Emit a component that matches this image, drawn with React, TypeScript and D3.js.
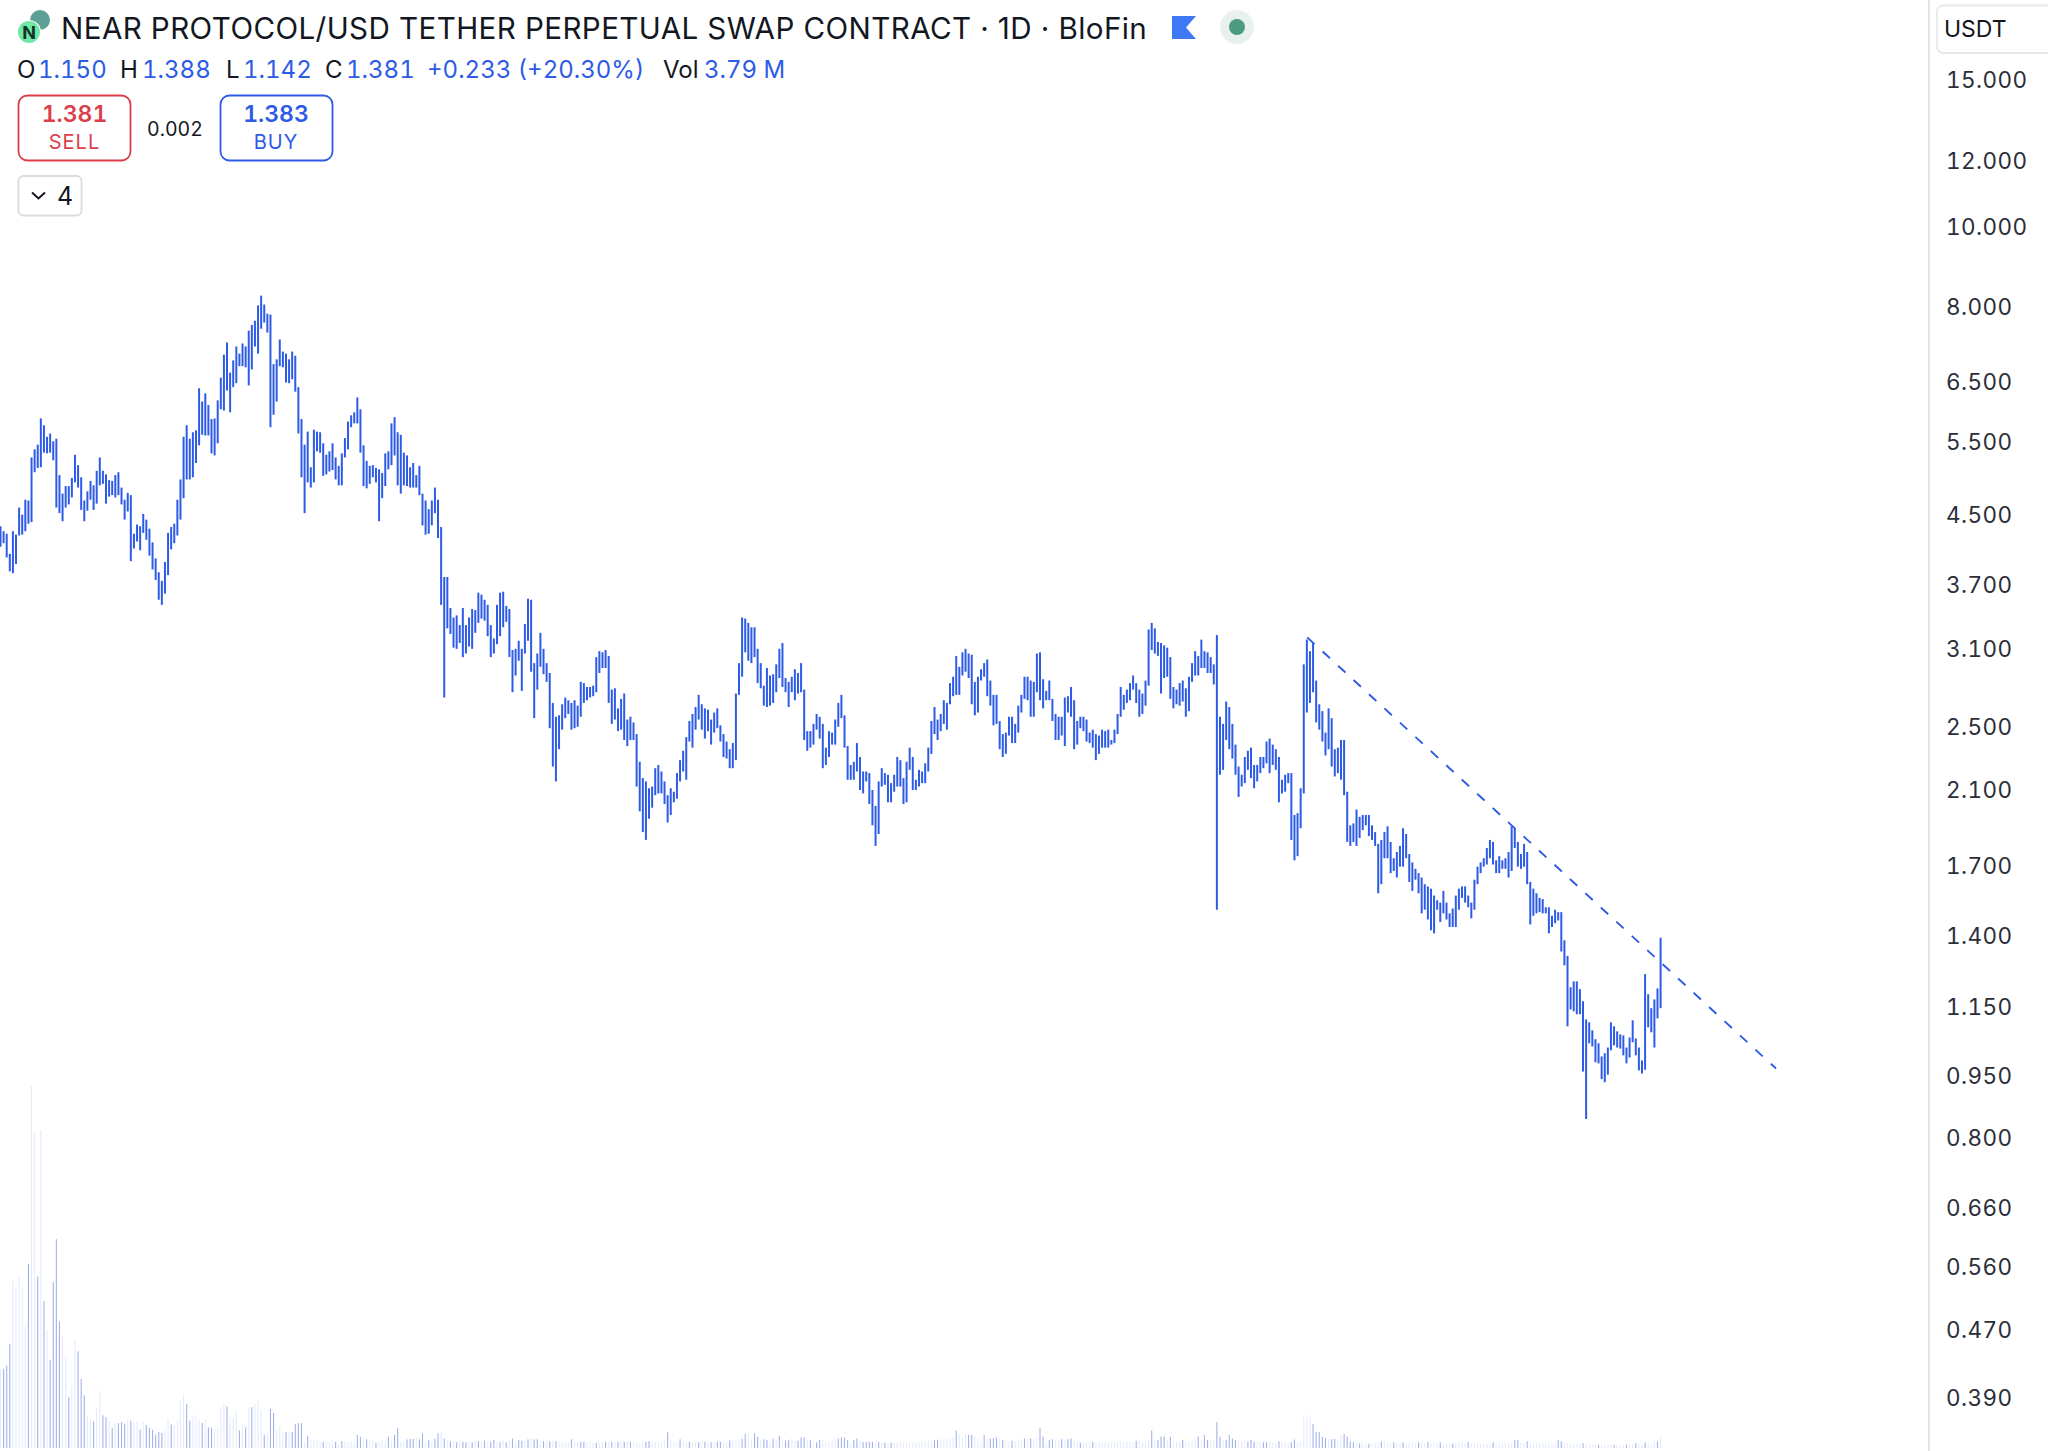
import React, { useEffect, useRef } from "react";
import * as d3 from "d3";

// [high, low] per daily bar, oldest first
const priceRanges: [number, number][] = [
  [4.34,4.10],[4.28,4.14],[4.25,3.98],[4.02,3.83],[4.28,3.81],[4.24,3.91],[4.57,4.23],[4.48,4.24],[4.67,4.28],[4.66,4.37],
  [5.25,4.39],[5.37,5.04],[5.44,5.10],[5.85,5.11],[5.74,5.32],[5.56,5.31],[5.61,5.32],[5.49,5.21],[5.53,4.57],[5.00,4.50],
  [4.75,4.40],[4.85,4.57],[4.85,4.61],[4.96,4.70],[5.29,4.90],[5.14,4.83],[4.97,4.54],[4.66,4.40],[4.78,4.53],[4.92,4.67],
  [4.86,4.54],[5.06,4.62],[5.25,4.86],[5.06,4.88],[5.01,4.62],[4.93,4.71],[4.92,4.73],[5.00,4.70],[5.04,4.73],[4.83,4.61],
  [4.67,4.42],[4.76,4.52],[4.73,3.94],[4.25,4.08],[4.36,4.16],[4.34,4.06],[4.49,4.26],[4.42,4.18],[4.31,4.00],[4.15,3.85],
  [3.97,3.74],[3.82,3.54],[3.73,3.49],[3.93,3.60],[4.26,3.79],[4.33,4.07],[4.37,4.14],[4.67,4.23],[4.94,4.42],[5.56,4.69],
  [5.74,4.94],[5.53,4.94],[5.63,4.97],[5.66,5.17],[6.36,5.43],[6.13,5.59],[6.27,5.58],[6.07,5.58],[5.84,5.31],[5.85,5.28],
  [6.15,5.46],[6.55,6.00],[6.98,5.98],[7.22,6.32],[6.64,5.95],[6.87,6.38],[7.14,6.45],[7.00,6.76],[7.20,6.76],[7.14,6.74],
  [7.46,6.41],[7.58,6.70],[7.67,7.14],[8.00,7.00],[8.22,7.50],[8.02,7.63],[7.82,7.42],[7.80,5.71],[6.80,5.91],[6.89,6.13],
  [7.28,6.76],[7.04,6.74],[7.00,6.46],[6.89,6.45],[7.04,6.52],[6.96,6.30],[6.38,5.61],[5.84,4.97],[5.44,4.50],[5.64,4.90],
  [5.11,4.83],[5.67,4.90],[5.64,5.34],[5.63,5.32],[5.46,4.99],[5.29,5.01],[5.34,5.05],[5.46,5.07],[5.25,4.94],[5.13,4.86],
  [5.31,4.86],[5.54,5.25],[5.80,5.37],[5.90,5.71],[5.95,5.77],[6.20,5.77],[6.00,5.32],[5.43,4.85],[5.20,4.82],[5.13,4.88],
  [5.14,4.97],[5.10,4.90],[5.08,4.40],[5.03,4.69],[5.31,4.85],[5.34,5.08],[5.77,5.14],[5.87,5.28],[5.63,4.86],[5.59,4.75],
  [5.32,4.86],[5.28,4.85],[5.11,4.83],[5.17,4.83],[5.00,4.83],[5.13,4.73],[4.75,4.35],[4.66,4.24],[4.55,4.25],[4.66,4.35],
  [4.83,4.50],[4.67,4.20],[4.33,3.49],[3.77,2.70],[3.77,3.27],[3.46,3.22],[3.37,3.10],[3.39,3.09],[3.30,3.14],[3.46,3.02],
  [3.30,3.05],[3.37,3.11],[3.45,3.09],[3.44,3.23],[3.61,3.32],[3.59,3.36],[3.54,3.34],[3.49,3.20],[3.30,3.02],[3.18,3.05],
  [3.49,3.13],[3.61,3.20],[3.62,3.28],[3.48,3.33],[3.45,3.02],[3.08,2.74],[3.09,2.87],[3.16,2.99],[3.09,2.75],[3.31,3.05],
  [3.55,3.16],[3.54,2.90],[2.97,2.55],[3.05,2.76],[3.23,2.94],[3.09,2.88],[2.97,2.82],[2.89,2.48],[2.66,2.23],[2.56,2.14],
  [2.57,2.34],[2.65,2.47],[2.70,2.55],[2.68,2.58],[2.66,2.47],[2.68,2.48],[2.64,2.49],[2.82,2.56],[2.81,2.66],[2.78,2.68],
  [2.78,2.70],[2.79,2.71],[3.02,2.74],[3.07,2.89],[3.06,2.93],[3.08,2.93],[3.03,2.66],[2.76,2.51],[2.77,2.54],[2.62,2.46],
  [2.69,2.47],[2.73,2.40],[2.54,2.36],[2.56,2.40],[2.52,2.40],[2.44,2.11],[2.26,1.97],[2.16,1.86],[2.14,1.82],[2.10,1.93],
  [2.11,1.99],[2.22,2.06],[2.24,2.07],[2.20,2.07],[2.14,2.01],[2.06,1.91],[2.10,1.95],[2.08,2.02],[2.19,2.04],[2.27,2.14],
  [2.33,2.20],[2.42,2.15],[2.53,2.39],[2.58,2.35],[2.63,2.47],[2.72,2.54],[2.65,2.47],[2.62,2.41],[2.61,2.46],[2.54,2.37],
  [2.59,2.45],[2.62,2.48],[2.50,2.39],[2.44,2.29],[2.39,2.28],[2.34,2.22],[2.38,2.22],[2.73,2.27],[2.97,2.72],[3.37,2.86],
  [3.36,3.06],[3.32,2.99],[3.28,2.97],[3.28,3.02],[3.09,2.81],[2.97,2.77],[2.79,2.64],[2.93,2.63],[2.87,2.64],[2.88,2.66],
  [2.96,2.74],[3.09,2.85],[3.14,2.78],[2.85,2.74],[2.82,2.63],[2.86,2.74],[2.92,2.68],[2.89,2.73],[2.97,2.74],[2.76,2.40],
  [2.46,2.33],[2.46,2.35],[2.51,2.37],[2.58,2.47],[2.56,2.41],[2.51,2.22],[2.35,2.24],[2.46,2.29],[2.45,2.37],[2.54,2.37],
  [2.66,2.49],[2.72,2.55],[2.57,2.35],[2.36,2.15],[2.24,2.15],[2.26,2.15],[2.38,2.20],[2.29,2.09],[2.20,2.07],[2.20,2.14],
  [2.19,2.01],[2.09,1.895],[2.00,1.79],[2.14,1.85],[2.22,2.11],[2.19,2.12],[2.18,2.02],[2.13,2.02],[2.18,2.08],[2.29,2.11],
  [2.27,2.11],[2.16,2.01],[2.26,2.02],[2.35,2.21],[2.29,2.09],[2.15,2.09],[2.21,2.11],[2.20,2.13],[2.25,2.13],[2.35,2.20],
  [2.53,2.31],[2.63,2.44],[2.54,2.40],[2.58,2.46],[2.68,2.51],[2.66,2.47],[2.81,2.65],[2.86,2.71],[3.03,2.72],[2.94,2.72],
  [3.06,2.87],[3.09,2.90],[3.05,2.85],[3.04,2.65],[2.82,2.57],[2.86,2.59],[2.92,2.83],[2.97,2.86],[3.00,2.71],[2.83,2.64],
  [2.72,2.50],[2.72,2.51],[2.53,2.34],[2.44,2.29],[2.45,2.31],[2.56,2.43],[2.56,2.38],[2.51,2.38],[2.64,2.45],[2.72,2.59],
  [2.86,2.69],[2.86,2.68],[2.83,2.56],[2.82,2.56],[3.05,2.74],[3.06,2.68],[2.84,2.62],[2.75,2.68],[2.83,2.68],[2.69,2.53],
  [2.58,2.40],[2.56,2.40],[2.56,2.43],[2.70,2.36],[2.71,2.59],[2.78,2.56],[2.68,2.34],[2.53,2.37],[2.56,2.48],[2.56,2.46],
  [2.54,2.39],[2.45,2.38],[2.47,2.35],[2.44,2.27],[2.43,2.31],[2.47,2.35],[2.46,2.35],[2.47,2.35],[2.40,2.37],[2.47,2.38],
  [2.58,2.44],[2.78,2.56],[2.72,2.61],[2.76,2.66],[2.81,2.68],[2.87,2.76],[2.81,2.66],[2.76,2.56],[2.73,2.58],[2.83,2.64],
  [3.26,2.79],[3.32,3.08],[3.27,3.05],[3.15,3.03],[3.14,2.73],[3.12,2.85],[3.10,2.86],[3.02,2.69],[2.78,2.62],[2.76,2.65],
  [2.81,2.64],[2.83,2.67],[2.77,2.56],[2.86,2.60],[2.97,2.82],[3.07,2.87],[3.03,2.87],[3.17,2.93],[3.07,2.93],[3.06,2.89],
  [3.02,2.89],[2.96,2.80],[3.21,1.50],[2.56,2.18],[2.51,2.21],[2.67,2.40],[2.63,2.34],[2.51,2.28],[2.37,2.18],[2.23,2.05],
  [2.18,2.11],[2.29,2.13],[2.33,2.21],[2.35,2.16],[2.24,2.10],[2.24,2.14],[2.29,2.19],[2.29,2.22],[2.39,2.25],[2.41,2.19],
  [2.37,2.24],[2.34,2.21],[2.29,2.02],[2.15,2.07],[2.18,2.08],[2.19,2.13],[2.19,1.82],[1.95,1.72],[1.96,1.74],[2.10,1.88],
  [2.96,2.07],[3.17,2.59],[3.07,2.66],[3.14,2.74],[2.83,2.52],[2.65,2.47],[2.60,2.39],[2.45,2.30],[2.62,2.34],[2.55,2.23],
  [2.34,2.17],[2.35,2.19],[2.40,2.15],[2.40,2.06],[2.08,1.81],[1.895,1.79],[1.905,1.81],[1.98,1.79],[1.94,1.83],[1.95,1.87],
  [1.95,1.895],[1.95,1.84],[1.895,1.82],[1.86,1.79],[1.80,1.57],[1.82,1.61],[1.86,1.73],[1.89,1.73],[1.81,1.66],[1.73,1.67],
  [1.76,1.64],[1.79,1.69],[1.88,1.69],[1.85,1.73],[1.75,1.62],[1.71,1.58],[1.68,1.63],[1.66,1.57],[1.64,1.485],[1.61,1.50],
  [1.60,1.46],[1.59,1.417],[1.56,1.405],[1.54,1.50],[1.53,1.45],[1.58,1.485],[1.53,1.46],[1.485,1.43],[1.505,1.43],[1.56,1.43],
  [1.59,1.50],[1.60,1.55],[1.60,1.53],[1.56,1.51],[1.53,1.465],[1.63,1.50],[1.69,1.61],[1.71,1.66],[1.73,1.69],[1.78,1.70],
  [1.82,1.73],[1.81,1.70],[1.72,1.66],[1.74,1.66],[1.72,1.68],[1.73,1.68],[1.76,1.64],[1.89,1.67],[1.88,1.78],[1.81,1.69],
  [1.75,1.68],[1.80,1.69],[1.76,1.61],[1.62,1.44],[1.59,1.475],[1.57,1.485],[1.55,1.49],[1.545,1.485],[1.51,1.485],[1.51,1.405],
  [1.475,1.43],[1.50,1.445],[1.49,1.456],[1.49,1.336],[1.378,1.286],[1.32,1.086],[1.21,1.138],[1.23,1.132],[1.23,1.123],[1.204,1.123],
  [1.164,0.958],[1.107,0.84],[1.098,1.036],[1.074,1.027],[1.048,0.983],[1.036,0.98],[0.999,0.938],[1.008,0.93],[1.024,0.95],[1.098,1.016],
  [1.086,1.03],[1.071,1.024],[1.062,1.021],[1.059,1.002],[1.024,0.98],[1.053,0.996],[1.104,1.039],[1.05,1.002],[1.024,0.961],[0.988,0.953],
  [1.255,0.963],[1.187,1.083],[1.142,1.068],[1.17,1.024],[1.206,1.11],[1.388,1.142],
];

// volume per bar, in millions
const volumes = [
  27.0,27.4,28.4,36.0,58.1,55.8,59.2,55.2,42.0,63.6,125.0,108.7,59.2,109.8,50.8,40.8,30.5,57.3,72.1,43.7,
  38.5,31.6,17.5,21.3,37.4,33.4,23.8,18.2,10.9,9.8,9.2,13.8,19.8,11.3,10.6,9.2,6.9,8.1,8.6,9.0,
  8.4,9.8,9.4,8.6,9.2,6.3,9.2,7.9,7.0,6.3,4.6,5.5,5.2,6.3,10.0,8.1,8.1,9.2,16.7,18.4,
  15.2,9.4,10.9,11.5,9.8,8.6,9.8,7.2,7.0,6.6,6.9,14.1,15.5,14.4,10.7,10.4,12.4,6.0,8.1,7.2,
  14.1,14.1,15.3,16.7,13.0,4.6,5.2,13.5,12.1,6.3,7.5,5.2,5.5,5.2,5.5,8.4,8.6,8.5,2.0,4.2,
  2.8,3.0,2.8,2.2,2.2,2.4,1.8,2.8,2.2,1.6,2.4,2.2,1.9,2.4,2.0,4.5,3.9,3.3,3.0,2.2,
  2.6,1.8,2.0,3.0,2.2,3.9,2.6,4.5,6.8,2.0,2.0,2.9,3.1,3.2,3.9,3.0,5.1,2.2,2.8,2.2,
  3.3,5.1,5.6,3.3,2.4,2.3,2.2,2.0,2.4,2.2,2.0,2.3,2.0,2.5,2.4,2.2,2.6,2.0,2.2,2.8,
  2.2,2.0,2.8,2.0,2.6,3.3,2.2,2.8,2.5,2.6,3.0,3.3,3.0,3.0,2.2,2.4,2.0,2.3,2.6,2.4,
  2.2,1.8,1.8,2.0,3.0,1.8,2.2,2.2,2.2,2.0,2.0,1.8,1.8,2.0,2.2,2.2,2.2,2.2,2.2,2.2,
  2.2,2.2,2.4,2.2,2.2,2.0,1.8,2.0,2.2,2.4,2.0,2.2,1.8,2.0,2.4,5.4,3.0,1.8,2.0,3.0,
  2.2,1.9,2.2,2.0,2.2,2.0,2.0,2.2,2.2,2.0,2.2,2.2,2.2,2.2,2.4,2.6,2.8,3.0,2.9,3.2,
  4.9,5.1,3.0,5.1,3.9,2.6,3.0,2.8,2.2,3.3,3.0,4.2,2.8,2.6,2.8,3.3,2.4,2.5,3.6,3.6,
  2.8,2.8,2.2,2.0,2.8,2.8,2.0,2.2,2.6,3.0,3.3,3.6,3.6,2.8,2.0,2.8,3.3,2.4,2.0,2.2,
  2.2,2.2,2.2,2.0,1.8,1.8,1.8,1.8,2.0,2.0,2.2,2.0,2.0,1.8,1.8,2.0,2.0,2.2,2.2,2.4,
  2.4,2.8,2.8,3.0,3.2,3.4,3.6,4.0,6.0,4.5,3.5,5.0,4.6,4.5,3.9,3.0,2.2,4.5,3.2,3.3,
  3.3,3.6,3.4,2.8,2.4,2.2,2.5,2.6,2.6,3.0,3.3,2.4,3.3,3.2,3.4,6.8,3.9,2.2,2.8,3.0,
  2.6,2.8,3.0,2.6,3.0,3.3,2.6,2.2,1.8,2.2,2.0,2.0,2.2,2.2,2.0,2.0,2.0,1.8,1.8,2.0,
  2.0,2.2,2.0,2.2,2.0,2.2,2.5,2.5,2.0,2.2,3.0,6.0,3.0,2.8,3.9,4.1,2.6,3.9,2.2,2.0,
  2.2,2.8,2.2,2.2,2.6,2.8,3.9,2.6,4.5,2.8,2.4,3.0,9.0,3.9,2.6,2.8,4.5,3.3,2.8,2.6,
  2.2,2.4,2.2,2.8,2.2,2.0,2.0,2.0,2.0,2.0,1.8,1.8,2.3,1.8,1.8,2.0,2.0,2.9,1.8,2.0,
  11.0,10.4,11.5,8.3,5.5,5.5,3.8,3.5,3.0,3.1,3.1,2.5,4.6,4.8,4.0,2.3,2.1,2.0,1.6,1.6,
  1.5,1.5,1.5,1.7,2.0,2.2,2.0,1.6,1.5,2.0,1.6,1.6,2.0,1.6,1.7,1.8,1.5,2.0,1.8,1.6,
  2.0,1.6,1.7,1.8,2.0,1.6,1.6,1.7,1.5,1.7,1.7,1.6,1.6,2.0,1.6,1.8,1.7,1.5,1.5,1.5,
  1.6,2.0,1.6,1.6,1.5,1.6,1.6,1.6,2.8,2.8,1.8,1.8,2.3,1.6,1.6,1.7,1.6,1.6,1.5,1.7,
  1.5,1.6,2.8,2.3,1.8,1.6,1.5,1.5,1.4,1.5,1.6,1.2,1.2,1.2,1.2,1.1,1.1,1.1,1.1,1.2,
  1.1,1.1,1.1,1.2,1.2,1.3,1.2,1.7,1.3,1.4,2.0,1.6,1.4,2.6,2.3,3.79,
];

// bars whose volume column is drawn in the stronger tint
const volumeDark = new Set([
  1,2,3,9,12,14,16,17,18,19,22,25,26,27,30,33,34,36,38,39,40,42,45,47,48,49,50,51,52,55,60,61,65,67,68,73,77,79,81,85,87,88,92,94,95,96,
  97,99,104,108,110,115,116,118,121,125,127,128,131,132,133,135,136,138,140,141,143,145,147,149,150,152,154,156,158,159,161,163,165,167,168,170,172,173,175,177,179,184,187,188,192,195,197,199,201,203,208,209,215,219,222,225,227,229,231,232,235,239,240,243,244,246,247,249,
  251,253,254,257,258,259,261,263,264,270,271,272,273,275,276,278,279,280,281,283,285,287,301,302,308,312,313,317,319,320,321,323,326,330,332,335,336,338,339,342,344,345,348,352,366,371,373,374,375,377,381,386,388,389,392,393,395,396,397,398,402,
  403,404,407,408,412,416,417,423,424,425,426,427,429,430,433,434,435,436,438,441,445,449,452,457,460,464,468,473,481,488,489,492,502,503,510,515,520,524,527,530,534,
]);

const priceTicks = [15, 12, 10, 8, 6.5, 5.5, 4.5, 3.7, 3.1, 2.5, 2.1, 1.7, 1.4, 1.15, 0.95, 0.8, 0.66, 0.56, 0.47, 0.39];

// trendline anchors: bar index and price
const trendBars = [421.1, 572.2];
const trendPrices = [3.19, 0.966];

const title = "NEAR PROTOCOL/USD TETHER PERPETUAL SWAP CONTRACT · 1D · BloFin";
const ohlcLabels = ["O", "H", "L", "C"];
const ohlcValues = ["1.150", "1.388", "1.142", "1.381"];
const changeLabel = "+0.233 (+20.30%)";
const volumeLabel = "3.79 M";

const width = 2048, height = 1451;
const font = "Inter, 'Noto Sans', sans-serif";
const blue = "#2d5be6";
const red = "#dc3f4a";
const numStyle = { fontVariantNumeric: "tabular-nums", fontFeatureSettings: "'tnum' 1" };

const App = () => {
    const chartRef = useRef<SVGGElement>(null);

    useEffect(() => {
        const chart = d3.select(chartRef.current);
        chart.selectAll("*").remove();

        const xScale = d3.scaleLinear().domain([0, 535]).range([0.5, 1660.6]);
        const yScale = d3.scaleLog().domain([15, 0.39]).range([78.5, 1396]);
        const volScale = d3.scaleLinear().domain([0, 125]).range([1448, 1086]);

        // volume columns
        chart.append("g").selectAll("line")
            .data(volumes)
            .enter()
            .append("line")
            .attr("x1", (d, i) => xScale(i))
            .attr("x2", (d, i) => xScale(i))
            .attr("y1", volScale(0))
            .attr("y2", d => volScale(d))
            .attr("stroke", (d, i) => volumeDark.has(i) ? "#a3b2ea" : "#e6ebfb")
            .attr("stroke-width", 1.1);

        // price bars
        chart.append("g").selectAll("line")
            .data(priceRanges)
            .enter()
            .append("line")
            .attr("x1", (d, i) => xScale(i))
            .attr("x2", (d, i) => xScale(i))
            .attr("y1", d => yScale(d[0]))
            .attr("y2", d => yScale(d[1]))
            .attr("stroke", blue)
            .attr("stroke-width", 2);

        // trendline
        chart.append("line")
            .attr("x1", xScale(trendBars[0]))
            .attr("y1", yScale(trendPrices[0]))
            .attr("x2", xScale(trendBars[1]))
            .attr("y2", yScale(trendPrices[1]))
            .attr("stroke", blue)
            .attr("stroke-width", 1.9)
            .attr("stroke-dasharray", "10 11");

        // price axis
        chart.append("line")
            .attr("x1", 1929).attr("x2", 1929).attr("y1", 0).attr("y2", height)
            .attr("stroke", "#e2e2e2").attr("stroke-width", 2);

        const yAxis = d3.axisRight(yScale)
            .tickValues(priceTicks)
            .tickFormat(d3.format(".3f"))
            .tickSize(0)
            .tickPadding(16);

        const axisG = chart.append("g")
            .attr("transform", "translate(1930,2)")
            .call(yAxis);
        axisG.select(".domain").remove();
        axisG.selectAll("text")
            .attr("font-family", font)
            .attr("font-size", 22.5)
            .style("font-variant-numeric", "tabular-nums")
            .style("font-feature-settings", "'tnum' 1")
            .attr("letter-spacing", 0.4)
            .attr("fill", "#2a2e39");
    }, []);

    const ohlcX = [17, 120, 226, 325];
    const ohlcValueX = [38, 142, 243, 346];

    return (
        <svg width={width} height={height} style={{ position: "absolute", left: 0, top: 0, background: "#fff" }} fontFamily={font}>
            <g ref={chartRef}></g>
            {/* symbol logos */}
            <circle cx={40} cy={20} r={10} fill="#5f9f96" />
            <circle cx={29} cy={32} r={12} fill="#fff" />
            <circle cx={29} cy={32} r={11} fill="#6fe8a6" />
            <text x={29} y={39} fontSize={18} fontWeight={700} textAnchor="middle" fill="#14342a">N</text>
            <text x={61} y={39} fontSize={29.6} letterSpacing={0.4} fill="#131722">{title}</text>
            <path d="M1172,16 H1196 L1186,27.5 L1196,39 H1172 Z" fill="#3f78f5" />
            <circle cx={1237} cy={27} r={17} fill="#e8f1ee" />
            <circle cx={1237} cy={27} r={8} fill="#4c9a82" />

            {ohlcLabels.map((label, i) => (
                <g key={label} fontSize={24} style={numStyle}>
                    <text x={ohlcX[i]} y={78} fill="#131722">{label}</text>
                    <text x={ohlcValueX[i]} y={78} fill={blue}>{ohlcValues[i]}</text>
                </g>
            ))}
            <text x={427} y={78} fontSize={24} fill={blue} style={numStyle}>{changeLabel}</text>
            <text x={663} y={78} fontSize={24} fill="#131722">Vol</text>
            <text x={704} y={78} fontSize={24} fill={blue} style={numStyle}>{volumeLabel}</text>

            <rect x={18.5} y={95.5} width={112} height={65} rx={9} fill="#fff" stroke={red} strokeWidth={1.8} />
            <text x={74.5} y={122} fontSize={23} fontWeight={600} textAnchor="middle" fill={red} style={numStyle}>1.381</text>
            <text x={74.5} y={149} fontSize={20} textAnchor="middle" fill={red} letterSpacing={1}>SELL</text>
            <text x={175} y={136} fontSize={19.5} textAnchor="middle" fill="#131722" style={numStyle}>0.002</text>
            <rect x={220.5} y={95.5} width={112} height={65} rx={9} fill="#fff" stroke={blue} strokeWidth={1.8} />
            <text x={276} y={122} fontSize={23} fontWeight={600} textAnchor="middle" fill={blue} style={numStyle}>1.383</text>
            <text x={276} y={149} fontSize={20} textAnchor="middle" fill={blue} letterSpacing={1}>BUY</text>

            <rect x={18.5} y={176} width={63} height={39.5} rx={5} fill="#fff" stroke="#dcdcdc" strokeWidth={1.8} />
            <path d="M32,192.5 L38.5,198.5 L45,192.5" fill="none" stroke="#131722" strokeWidth={2} />
            <text x={57} y={205} fontSize={25} fill="#131722">4</text>

            <rect x={1937} y={5.5} width={130} height={47.5} rx={6} fill="#fff" stroke="#e8e8e8" strokeWidth={1.8} />
            <text x={1944} y={37} fontSize={23} fill="#131722">USDT</text>
        </svg>
    );
};

export default App;
